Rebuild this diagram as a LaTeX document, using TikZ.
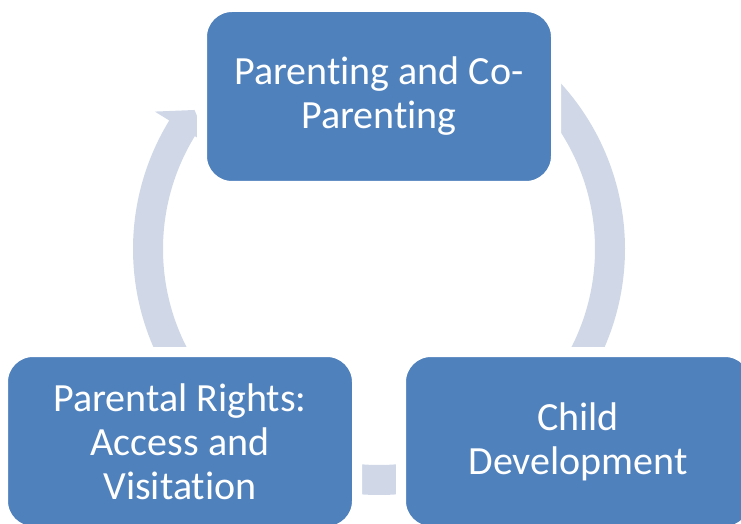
\documentclass[tikz,border=0pt]{standalone}
\usepackage{fontspec}
\setmainfont{Carlito}[Ligatures=NoCommon]
\usetikzlibrary{calc,positioning}
\definecolor{boxblue}{RGB}{79,129,189}
\definecolor{bandgray}{RGB}{208,216,232}

\begin{document}
\begin{tikzpicture}[x=1pt,y=1pt,
  box/.style={rectangle,rounded corners=30pt,fill=boxblue,draw=white,line width=10pt,
    minimum width=354pt,minimum height=179pt,text=white,align=center,
    font=\fontsize{40}{44}\selectfont},
  band/.style={fill=bandgray}]
\useasboundingbox (0,0) rectangle (741,523);
\clip (0,0) rectangle (741,523);
\coordinate (O) at (379,274);
% circular arrows (heads partly hidden by the boxes)
\fill[band] ($(O)+(212:246)$) arc[start angle=212,end angle=148.5,radius=246]
  -- ($(O)+(148.5:263)$) -- ($(O)+(143:231)$) -- ($(O)+(148.5:199)$)
  -- ($(O)+(148.5:216)$) arc[start angle=148.5,end angle=212,radius=216] -- cycle;
\fill[band] ($(O)+(64:246)$) arc[start angle=64,end angle=-36,radius=246]
  -- ($(O)+(-36:263)$) -- ($(O)+(-41.5:231)$) -- ($(O)+(-36:199)$)
  -- ($(O)+(-36:216)$) arc[start angle=-36,end angle=64,radius=216] -- cycle;
\fill[band] ($(O)+(-62:246)$) arc[start angle=-62,end angle=-122,radius=246]
  -- ($(O)+(-122:263)$) -- ($(O)+(-127.5:231)$) -- ($(O)+(-122:199)$)
  -- ($(O)+(-122:216)$) arc[start angle=-122,end angle=-62,radius=216] -- cycle;
% boxes
\node[box] (parenting) at (379,426.5) {Parenting and Co-\\Parenting};
\node[box] (rights) at (180,81.5) {Parental Rights:\\Access and\\Visitation};
\node[box] (child) at (578,81.5) {Child\\Development};
\end{tikzpicture}
\end{document}
